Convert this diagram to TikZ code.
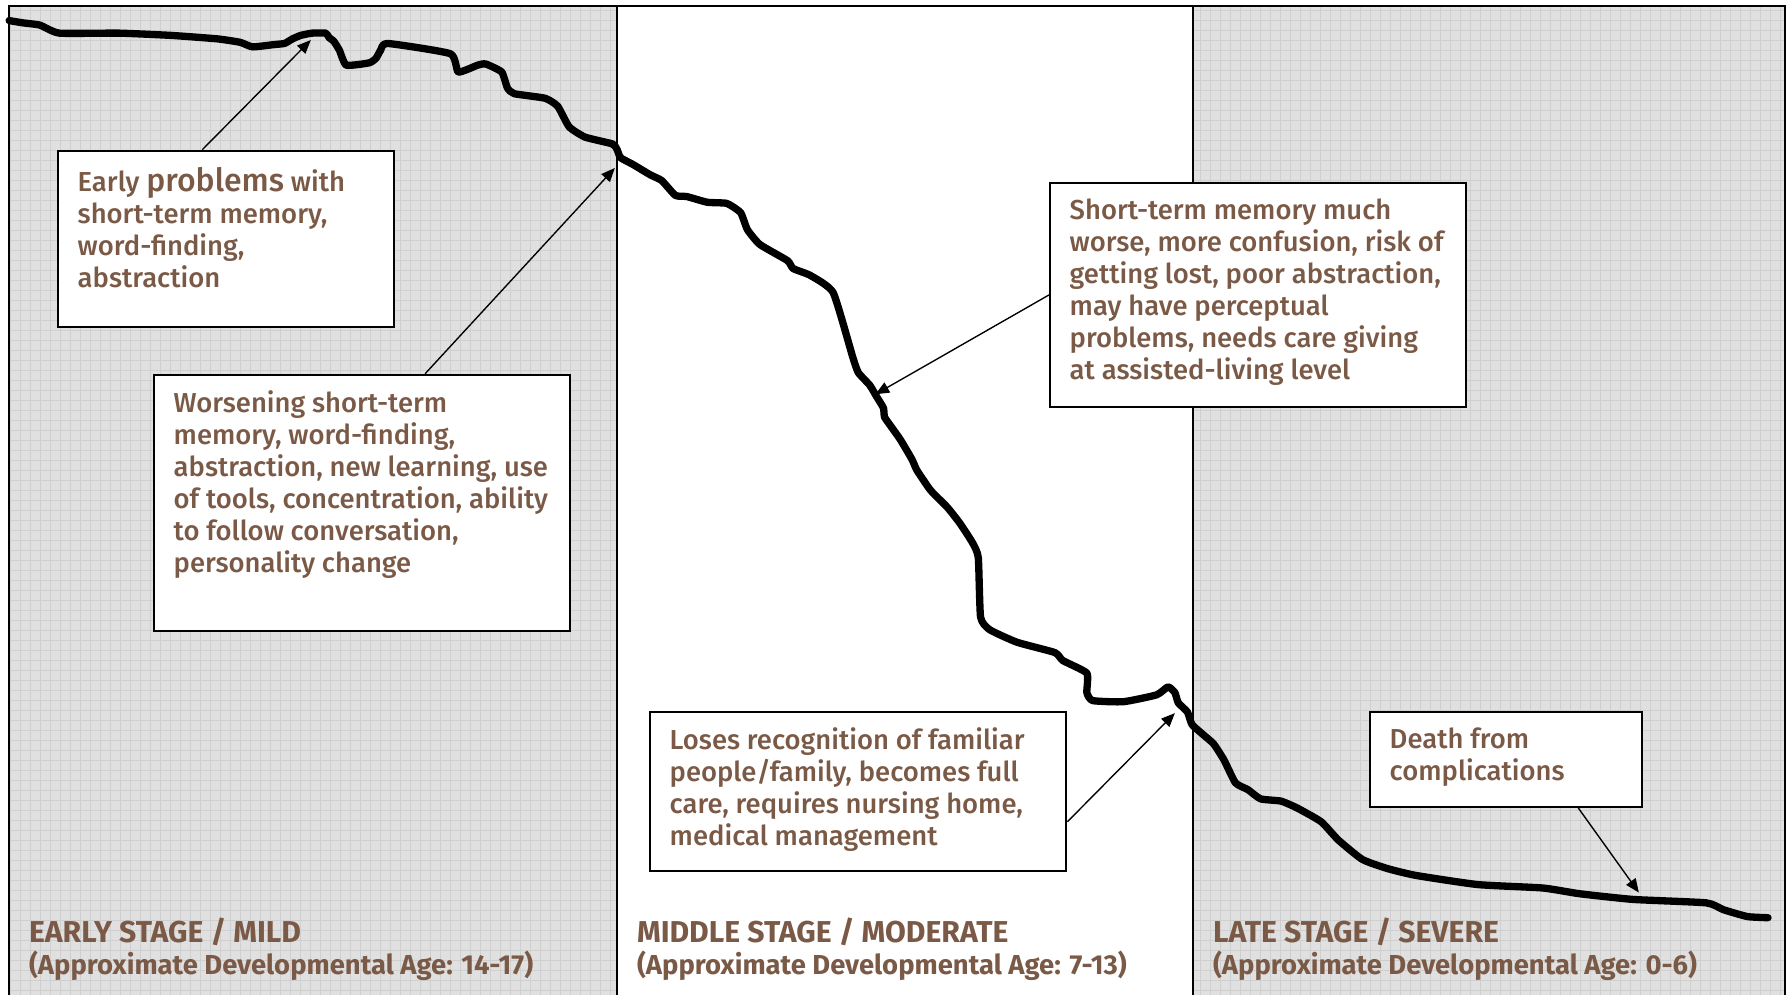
\documentclass[tikz,border=0pt]{standalone}
\usepackage{fontspec}
\setmainfont{Fira Sans}[UprightFont={* Medium},BoldFont={* SemiBold}]
\newfontfamily\stagefont{Fira Sans}[UprightFont={* Bold}]
\usetikzlibrary{arrows.meta}

\definecolor{panelgray}{RGB}{224,224,224}
\definecolor{gridgray}{RGB}{207,207,207}
\definecolor{notebrown}{RGB}{122,90,70}

\tikzset{
  note/.style={draw=black, line width=1pt, fill=white, anchor=north west,
    inner xsep=8.5pt, inner ysep=7pt, text=notebrown,
    font=\fontsize{12}{14}\selectfont},
  pointer/.style={-{Triangle[length=6pt,width=5pt]}, line width=0.6pt},
  stagelabel/.style={anchor=north west, inner sep=0pt, text=notebrown,
    align=left, font=\stagefont\fontsize{12}{14}\selectfont},
  decline/.style={line width=3.2pt, line join=round, line cap=round}
}

% text block of a note: height, width, lines
\newcommand{\notetext}[3]{\parbox[c][#1][t]{#2}{\raggedright #3}}
% upper-case first line of a stage label
\newcommand{\stagename}[1]{{\fontsize{13.2}{14}\selectfont #1}}

\begin{document}
\begin{tikzpicture}[x=0.5pt,y=-0.5pt]
\useasboundingbox (0,0) rectangle (1568,871);

% grey panels with grid
\fill[panelgray] (8,5) rectangle (540,871);
\fill[panelgray] (1044,5) rectangle (1562,871);
\begin{scope}
  \clip (8,5) rectangle (540,871);
  \draw[gridgray, line width=0.35pt, step=4.375pt] (0,0) grid (540,871);
\end{scope}
\begin{scope}
  \clip (1044,5) rectangle (1562,871);
  \draw[gridgray, line width=0.35pt, step=4.375pt] (1040,0) grid (1568,871);
\end{scope}

% frame and stage dividers
\draw[line width=1pt] (8,871) -- (8,5) -- (1562,5) -- (1562,871);
\draw[line width=1pt] (540,5) -- (540,871);
\draw[line width=1pt] (1044,5) -- (1044,871);

% decline curve
\draw[decline] plot[smooth, tension=0.3] coordinates {
  (8,18) (20,20) (35,22) (52,29) (104,29) (150,31) (190,34) (210,37)
  (221,41) (240,39) (249,38) (256,34) (263,31) (273,29) (285,29) (288,33)
  (292,36) (297,44) (303,57) (323,55) (329,51) (333,44) (339,38) (394,47)
  (401,63) (418,57) (425,56) (439,63) (444,77) (450,82) (477,86) (488,93)
  (498,111) (512,120) (536,126) (540,131) (543,138) (554,144) (569,153)
  (579,158) (591,171) (601,172) (619,177) (636,178) (648,186) (654,201)
  (665,214) (689,228) (694,235) (709,241) (729,256) (746,312) (751,326)
  (761,337) (767,347) (773,357) (774,365) (781,375) (788,385) (798,402)
  (802,411) (812,426) (816,431) (829,444) (840,458) (851,475) (856,488)
  (858,540) (866,551) (890,562) (923,571) (930,578) (951,589) (951,606)
  (956,613) (983,614) (1012,608) (1022,601) (1028,606) (1031,615)
  (1039,623) (1043,634) (1053,643) (1062,651) (1071,665) (1081,685)
  (1092,691) (1103,699) (1121,701) (1135,707) (1156,719) (1171,735)
  (1192,752) (1214,760) (1239,766) (1293,774) (1350,777) (1382,782)
  (1429,787) (1493,790) (1508,796) (1529,802) (1547,803)};

% arrow tips on the curve
\coordinate (tipEarly) at (272,35);
\coordinate (tipWorse) at (538,147);
\coordinate (tipMuch) at (766,345);
\coordinate (tipRecog) at (1028,624);
\coordinate (tipDeath) at (1434,781);

% notes
\node[note] (early) at (50,131)
  {\notetext{63pt}{130pt}{Early {\fontsize{14}{14}\selectfont problems} with\\short-term memory,\\word-finding,\\abstraction}};
\node[note] (worsening) at (134,327)
  {\notetext{98pt}{165pt}{Worsening short-term\\memory, word-finding,\\abstraction, new learning, use\\of tools, concentration, ability\\to follow conversation,\\personality change}};
\node[note] (muchworse) at (918,159)
  {\notetext{84pt}{165pt}{Short-term memory much\\worse, more confusion, risk of\\getting lost, poor abstraction,\\may have perceptual\\problems, needs care giving\\at assisted-living level}};
\node[note] (recognition) at (568,622)
  {\notetext{55.5pt}{165pt}{Loses recognition of familiar\\people/family, becomes full\\care, requires nursing home,\\medical management}};
\node[note] (death) at (1198,622)
  {\notetext{27.5pt}{102pt}{Death from\\complications}};

% pointers
\draw[pointer] ([xshift=63.5pt]early.north west) -- (tipEarly);
\draw[pointer] ([xshift=119pt]worsening.north west) -- (tipWorse);
\draw[pointer] (muchworse.west) -- (tipMuch);
\draw[pointer] ([yshift=-13.25pt]recognition.east) -- (tipRecog);
\draw[pointer] ([xshift=91.5pt]death.south west) -- (tipDeath);

% stage labels
\node[stagelabel] (earlystage) at (25,803)
  {\stagename{EARLY STAGE / MILD}\\(Approximate Developmental Age: 14-17)};
\node[stagelabel] (middlestage) at (557,803)
  {\stagename{MIDDLE STAGE / MODERATE}\\(Approximate Developmental Age: 7-13)};
\node[stagelabel] (latestage) at (1061,803)
  {\stagename{LATE STAGE / SEVERE}\\(Approximate Developmental Age: 0-6)};
\end{tikzpicture}
\end{document}
